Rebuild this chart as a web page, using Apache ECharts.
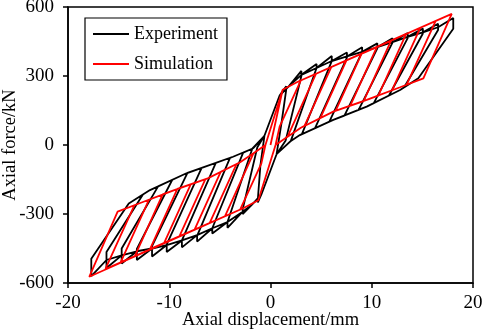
<!DOCTYPE html>
<html>
<head>
<meta charset="utf-8">
<script src="https://cdn.jsdelivr.net/npm/echarts@6/dist/echarts.min.js"></script>
<style>
html, body { margin: 0; padding: 0; background: #fff; }
#main { width: 484px; height: 333px; }
</style>
</head>
<body>
<div id="main"></div>
<script>
// experiment (black) - positive peaks of each cycle
var expDisp = [1.55, 3.05, 4.55, 6.05, 7.55, 9.05, 10.55, 12.05, 13.55, 15.05, 16.55, 18.05];
var expPeak = [255, 322, 352, 387, 402, 425, 442, 464, 487, 506, 527, 552];
var expDrop = [240, 300, 335, 365, 380, 405, 420, 445, 465, 485, 500, 505];
var expRetX = [1.1, 1.5, 2.0, 3.1, 4.4, 5.8, 7.3, 8.7, 10.2, 11.7, 13.2, 14.6];
var expRetY = [100, 20, 17, 47, 73, 101, 128, 153, 182, 215, 251, 290];
// experiment - negative peaks
var expNegDisp = [-1.25, -2.75, -4.25, -5.75, -7.25, -8.75, -10.25, -11.7, -13.2, -14.7, -16.2, -17.7];
var expNegPeak = [-250, -300, -360, -385, -420, -445, -465, -485, -500, -515, -535, -570];
var expNegRise = [-235, -280, -335, -362, -395, -415, -432, -440, -452, -450, -465, -495];
var expNegRetX = [-1.0, -1.3, -1.8, -2.7, -4.0, -5.4, -6.8, -8.2, -9.7, -11.1, -12.6, -14.0];
var expNegRetY = [-90, -10, -16, -33, -56, -78, -99, -121, -151, -180, -215, -254];
// experiment - shared paths
var expRise = [[-0.6, 40], [0.9, 215], [1.8, 255]];
var expFall = [[0.6, -40], [-0.9, -215], [-1.8, -258]];
var expEnvPos = [[3.05, 305], [4.55, 335], [6.05, 365], [7.55, 385], [9.05, 405], [10.55, 425], [12.05, 447], [13.55, 470], [15.05, 490], [16.55, 512]];
var expEnvNeg = [[-2.75, -290], [-4.25, -335], [-5.75, -362], [-7.25, -392], [-8.75, -415], [-10.25, -435], [-11.7, -450], [-13.2, -462], [-14.7, -480], [-16.2, -500]];
var expBranchPos = [[12.8, 239], [9.5, 167], [6.2, 109], [2.9, 43], [1.9, 14]];
var expBranchNeg = [[-11.9, -196], [-8.3, -123], [-3.7, -51], [-1.7, -14]];

// simulation (red)
var simDisp = [3.0, 4.5, 6.0, 7.5, 9.0, 10.5, 11.9, 13.4, 14.8, 16.3, 17.9];
var simForce = [281, 310, 339, 368, 397, 426, 453, 483, 510, 539, 570];
var simRetX = [0.9, 1.7, 3.36, 4.92, 6.44, 7.88, 9.2, 10.65, 12.0, 13.45, 15.1];
var simRetY = [80, 38, 83, 117, 149, 171, 191, 215, 238, 262, 290];
var simNegDisp = [-3.0, -4.5, -6.0, -7.5, -9.0, -10.5, -11.9, -13.4, -14.8, -16.3, -17.9];
var simNegForce = [-281, -310, -339, -368, -397, -426, -453, -483, -510, -539, -573];
var simNegRetX = [-0.9, -1.7, -3.36, -4.92, -6.44, -7.88, -9.2, -10.65, -12.0, -13.45, -15.1];
var simNegRetY = [-80, -38, -83, -117, -149, -171, -191, -215, -238, -262, -290];
var simRise = [[1.2, 240], [2.7, 275]];
var simFall = [[-1.2, -240], [-2.7, -275]];
var simBranchPos = [[12.8, 251], [9.5, 196], [6.2, 145], [3.0, 75], [1.5, 30], [0.5, 0]];
var simBranchNeg = [[-12.8, -251], [-9.5, -196], [-6.2, -145], [-3.0, -75], [-1.5, -30], [-0.5, 0]];

var serif = 'Liberation Serif';

function expLoop() {
  var pts = [];
  for (var i = 0; i < expDisp.length; i++) {
    var d = expDisp[i], n = expNegDisp[i];
    expRise.forEach(function (p) { if (p[0] < d) pts.push(p); });
    expEnvPos.forEach(function (p) { if (p[0] < d - 0.1) pts.push(p); });
    pts.push([d, expPeak[i]], [d, expDrop[i]], [expRetX[i], expRetY[i]]);
    expBranchPos.forEach(function (p) { if (p[0] < expRetX[i]) pts.push(p); });
    expFall.forEach(function (p) { if (p[0] > n) pts.push(p); });
    expEnvNeg.forEach(function (p) { if (p[0] > n + 0.1) pts.push(p); });
    pts.push([n, expNegPeak[i]], [n, expNegRise[i]], [expNegRetX[i], expNegRetY[i]]);
    expBranchNeg.forEach(function (p) { if (p[0] > expNegRetX[i]) pts.push(p); });
  }
  return pts;
}

function simLoop() {
  var pts = [[0, 0]];
  for (var i = 0; i < simDisp.length; i++) {
    var d = simDisp[i], n = simNegDisp[i];
    simRise.forEach(function (p) { if (p[0] < d) pts.push(p); });
    pts.push([d, simForce[i]], [simRetX[i], simRetY[i]]);
    simBranchPos.forEach(function (p) { if (p[0] < simRetX[i]) pts.push(p); });
    simFall.forEach(function (p) { if (p[0] > n) pts.push(p); });
    pts.push([n, simNegForce[i]], [simNegRetX[i], simNegRetY[i]]);
    simBranchNeg.forEach(function (p) { if (p[0] > simNegRetX[i]) pts.push(p); });
  }
  return pts;
}

var myChart = echarts.init(document.getElementById('main'));
myChart.setOption({
  animation: false,
  backgroundColor: '#fff',
  grid: {
    left: 68, right: 11, top: 7, bottom: 50,
    outerBoundsMode: 'none',
    containLabel: false,
    show: true, borderColor: '#000', borderWidth: 1.5
  },
  legend: {
    orient: 'vertical',
    left: 85, top: 18,
    padding: [7, 9, 7, 8],
    itemGap: 12,
    itemWidth: 36, itemHeight: 2,
    icon: 'rect',
    borderColor: '#000', borderWidth: 1.2,
    textStyle: { fontFamily: serif, fontSize: 18, color: '#000' },
    data: ['Experiment', 'Simulation']
  },
  xAxis: {
    type: 'value',
    min: -20, max: 20, interval: 10,
    name: 'Axial displacement/mm',
    nameLocation: 'middle', nameGap: 28,
    nameMoveOverlap: false,
    nameTextStyle: { fontFamily: serif, fontSize: 18.5, color: '#000' },
    axisLine: { onZero: false, lineStyle: { color: '#000', width: 1.5 } },
    axisTick: { inside: false, length: 5, lineStyle: { color: '#000', width: 1.5 } },
    axisLabel: { fontFamily: serif, fontSize: 19, color: '#000', margin: 11 },
    splitLine: { show: false }
  },
  yAxis: {
    type: 'value',
    min: -600, max: 600, interval: 300,
    name: 'Axial force/kN',
    nameLocation: 'middle', nameGap: 48,
    nameMoveOverlap: false,
    nameTextStyle: { fontFamily: serif, fontSize: 18.5, color: '#000' },
    axisLine: { onZero: false, lineStyle: { color: '#000', width: 1.5 } },
    axisTick: { inside: false, length: 5, lineStyle: { color: '#000', width: 1.5 } },
    axisLabel: { fontFamily: serif, fontSize: 19, color: '#000', margin: 14 },
    splitLine: { show: false }
  },
  series: [{
    name: 'Experiment',
    type: 'line',
    showSymbol: false,
    symbol: 'none',
    color: '#000',
    lineStyle: { color: '#000', width: 1.8 },
    data: expLoop()
  }, {
    name: 'Simulation',
    type: 'line',
    showSymbol: false,
    symbol: 'none',
    color: '#ff0000',
    lineStyle: { color: '#ff0000', width: 1.8 },
    data: simLoop()
  }]
});
</script>
</body>
</html>
